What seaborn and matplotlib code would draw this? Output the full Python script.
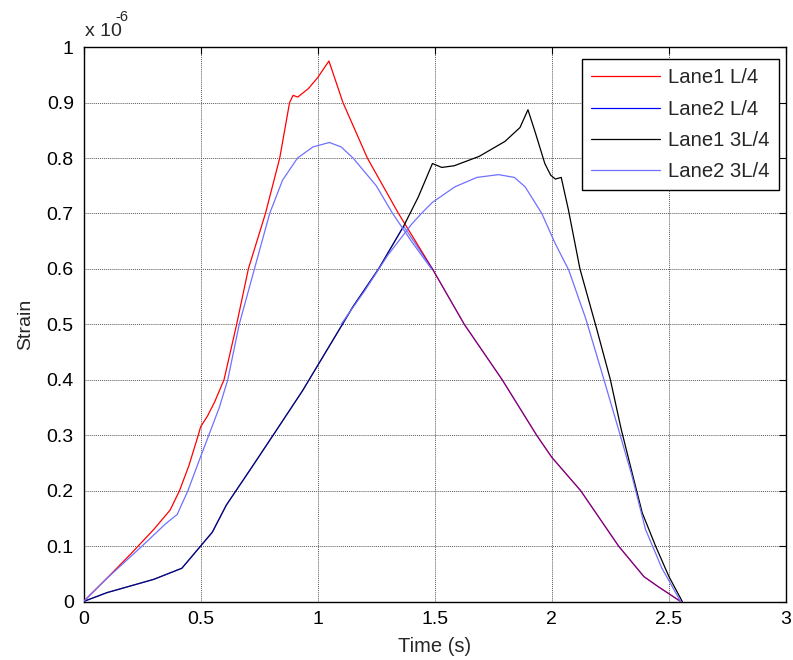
import matplotlib
matplotlib.use('Agg')
import matplotlib.pyplot as plt
from matplotlib.ticker import FuncFormatter
import pandas as pd
import seaborn as sns

# strain values are in units of 1e-6 (axis shows "x 10^-6")
lane1_L4_t = [0, 0.1, 0.2, 0.3, 0.37, 0.41, 0.45, 0.49, 0.50, 0.53, 0.56, 0.60, 0.654, 0.704,
              0.777, 0.838, 0.88, 0.895, 0.915, 0.96, 1.0, 1.048, 1.108, 1.212, 1.345, 1.49,
              1.626, 1.788, 1.935, 2.0, 2.123, 2.285, 2.393, 2.45, 2.50, 2.55]
lane1_L4_y = [0, 0.042, 0.085, 0.13, 0.165, 0.20, 0.245, 0.30, 0.315, 0.335, 0.36, 0.40, 0.50, 0.60,
              0.70, 0.80, 0.90, 0.913, 0.91, 0.925, 0.945, 0.975, 0.90, 0.80, 0.70, 0.60,
              0.50, 0.40, 0.30, 0.26, 0.20, 0.10, 0.045, 0.028, 0.014, 0]

lane1_3L4_t = [0, 0.1, 0.2, 0.3, 0.42, 0.5, 0.55, 0.61, 0.72, 0.827, 0.935, 1.043, 1.151, 1.26,
               1.367, 1.43, 1.49, 1.53, 1.583, 1.69, 1.80, 1.864, 1.898, 1.93, 1.97, 1.995,
               2.015, 2.04, 2.07, 2.12, 2.19, 2.25, 2.296, 2.35, 2.386, 2.443, 2.50, 2.557]
lane1_3L4_y = [0, 0.016, 0.028, 0.04, 0.06, 0.10, 0.125, 0.174, 0.243, 0.311, 0.38, 0.456, 0.532, 0.60,
               0.677, 0.73, 0.79, 0.783, 0.786, 0.803, 0.83, 0.855, 0.887, 0.845, 0.79, 0.769,
               0.762, 0.765, 0.708, 0.60, 0.494, 0.40, 0.311, 0.22, 0.16, 0.10, 0.045, 0]

# Lane2 L/4 lies on top of the other curves (rising with Lane1 3L/4, falling with Lane1 L/4)
lane2_L4_t = [0, 0.1, 0.2, 0.3, 0.42, 0.5, 0.55, 0.61, 0.72, 0.827, 0.935, 1.043, 1.151, 1.26,
              1.367, 1.49, 1.626, 1.788, 1.935, 2.0, 2.123, 2.285, 2.393, 2.45, 2.50, 2.55]
lane2_L4_y = [0, 0.016, 0.028, 0.04, 0.06, 0.10, 0.125, 0.174, 0.243, 0.311, 0.38, 0.456, 0.532, 0.60,
              0.677, 0.60, 0.50, 0.40, 0.30, 0.26, 0.20, 0.10, 0.045, 0.028, 0.014, 0]

lane2_3L4_a_t = [0, 0.093, 0.25, 0.35, 0.40, 0.446, 0.49, 0.535, 0.58, 0.616, 0.665, 0.73, 0.795,
                 0.85, 0.914, 0.98, 1.05, 1.10, 1.151, 1.25, 1.32, 1.40, 1.486]
lane2_3L4_a_y = [0, 0.039, 0.10, 0.14, 0.157, 0.20, 0.25, 0.30, 0.35, 0.40, 0.50, 0.60, 0.70,
                 0.76, 0.80, 0.82, 0.828, 0.82, 0.80, 0.75, 0.70, 0.65, 0.60]

lane2_3L4_b_t = [1.10, 1.2, 1.30, 1.40, 1.443, 1.49, 1.586, 1.68, 1.772, 1.84, 1.886, 1.957, 2.014,
                 2.072, 2.145, 2.21, 2.274, 2.34, 2.40, 2.47, 2.55]
lane2_3L4_b_y = [0.50, 0.56, 0.625, 0.68, 0.70, 0.72, 0.748, 0.765, 0.77, 0.765, 0.748, 0.70, 0.646,
                 0.598, 0.51, 0.418, 0.326, 0.23, 0.13, 0.06, 0]

light_blue = '#7070ff'

sns.set_style('white')
plt.rcParams['font.family'] = ['Liberation Sans', 'DejaVu Sans']

fig = plt.figure(figsize=(7.93, 6.6), dpi=100)
ax = fig.add_axes([0.1053, 0.0886, 0.8859, 0.840])

lw = 0.9
sns.lineplot(data=pd.DataFrame({'t': lane1_L4_t, 'y': lane1_L4_y}), x='t', y='y', ax=ax,
             color='#ff0000', lw=lw, zorder=3, label='Lane1 L/4')
sns.lineplot(data=pd.DataFrame({'t': lane2_L4_t, 'y': lane2_L4_y}), x='t', y='y', ax=ax,
             color='#0000ff', lw=lw, zorder=4, alpha=0.55, label='Lane2 L/4')
sns.lineplot(data=pd.DataFrame({'t': lane1_3L4_t, 'y': lane1_3L4_y}), x='t', y='y', ax=ax,
             color='k', lw=lw, zorder=3, label='Lane1 3L/4')
sns.lineplot(data=pd.DataFrame({'t': lane2_3L4_a_t, 'y': lane2_3L4_a_y}), x='t', y='y', ax=ax,
             color=light_blue, lw=lw, zorder=5, label='Lane2 3L/4')
sns.lineplot(data=pd.DataFrame({'t': lane2_3L4_b_t, 'y': lane2_3L4_b_y}), x='t', y='y', ax=ax,
             color=light_blue, lw=lw, zorder=5)

ax.set_xlim(0, 3)
ax.set_ylim(0, 1)
ax.set_xticks([0, 0.5, 1, 1.5, 2, 2.5, 3])
ax.set_yticks([i / 10 for i in range(11)])
fmt = FuncFormatter(lambda v, p: '%g' % round(v, 2))
ax.xaxis.set_major_formatter(fmt)
ax.yaxis.set_major_formatter(fmt)
ax.tick_params(direction='in', top=True, right=True, length=5, width=0.8,
               labelsize=14, pad=7, colors='k')
ax.grid(True, linestyle=(0, (1, 1)), color='0.35', linewidth=0.7)
ax.set_axisbelow(True)
for s in ax.spines.values():
    s.set_color('k')
    s.set_linewidth(1.0)

ax.set_xlabel('Time (s)', fontsize=14.5, labelpad=6)
ax.set_ylabel('Strain', fontsize=14, labelpad=9)
ax.text(0.002, 1.012, 'x 10', transform=ax.transAxes, fontsize=14, ha='left', va='bottom')
ax.text(0.045, 1.042, '-6', transform=ax.transAxes, fontsize=10.5, ha='left', va='bottom')

leg = ax.legend(loc='upper right', bbox_to_anchor=(0.990, 0.978), borderaxespad=0,
                fontsize=14.6, frameon=True, fancybox=False, framealpha=1, edgecolor='k',
                handlelength=3.4, handletextpad=0.4, labelspacing=0.6, borderpad=0.45)
leg.get_frame().set_linewidth(1.0)
for h in leg.get_lines():
    h.set_alpha(1)

fig.savefig('out.png', dpi=100)
